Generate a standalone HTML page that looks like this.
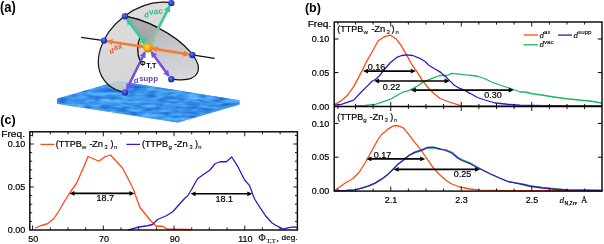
<!DOCTYPE html>
<html><head><meta charset="utf-8"><style>
html,body{margin:0;padding:0;background:#fff;}
svg{display:block;will-change:transform;}
</style></head><body>
<svg width="604" height="244" viewBox="0 0 604 244">
<rect width="604" height="244" fill="#fff"/>
<defs>
<filter id="tex" x="0" y="0" width="1" height="1" color-interpolation-filters="sRGB">
<feTurbulence type="fractalNoise" baseFrequency="0.07 0.28" numOctaves="2" seed="3" result="n"/>
<feColorMatrix in="n" type="matrix" values="0.40 0 0 0 0.035  0.56 0 0 0 0.30  0.30 0 0 0 0.77  0 0 0 0 1" result="c"/>
<feComposite in="c" in2="SourceGraphic" operator="in" result="t"/>

</filter>
<clipPath id="cA"><polygon points="217.3,-86.5 78.7,182 -100,182 -100,-86.5"/></clipPath>
<clipPath id="eA"><ellipse cx="148" cy="47.6" rx="54.64" ry="39.2" transform="rotate(143.03 148 47.6)"/></clipPath>
<clipPath id="cB"><polygon points="78.75,-47.25 217.4,142.5 400,142.5 400,-47.25"/></clipPath>
<radialGradient id="gs" cx="0.4" cy="0.35" r="0.7"><stop offset="0" stop-color="#ffd84a"/><stop offset="0.6" stop-color="#eea500"/><stop offset="1" stop-color="#b86e00"/></radialGradient>
<radialGradient id="gb" cx="0.4" cy="0.35" r="0.7"><stop offset="0" stop-color="#6478e6"/><stop offset="0.55" stop-color="#2c3fc4"/><stop offset="1" stop-color="#1a2790"/></radialGradient>
<linearGradient id="gB" gradientUnits="userSpaceOnUse" x1="150" y1="28" x2="188" y2="72"><stop offset="0" stop-color="#b4b7bc"/><stop offset="1" stop-color="#d8d9dc"/></linearGradient>
<linearGradient id="gW" gradientUnits="userSpaceOnUse" x1="148" y1="12" x2="148" y2="46"><stop offset="0" stop-color="#b8babd"/><stop offset="1" stop-color="#9a9ea3"/></linearGradient>
<linearGradient id="gA" gradientUnits="userSpaceOnUse" x1="150" y1="5" x2="110" y2="80"><stop offset="0" stop-color="#cecece"/><stop offset="1" stop-color="#d7d7d7"/></linearGradient>
<marker id="ag" viewBox="0 0 10 10" refX="8" refY="5" markerWidth="2.6" markerHeight="2.6" orient="auto-start-reverse"><path d="M0,0 L10,5 L0,10 z" fill="#2fd08e"/></marker>
<marker id="agm" viewBox="0 0 10 10" refX="8" refY="5" markerWidth="2.6" markerHeight="2.6" orient="auto-start-reverse"><path d="M0,0 L10,5 L0,10 z" fill="#8cc2a8"/></marker>
<marker id="ao" viewBox="0 0 10 10" refX="8" refY="5" markerWidth="2.4" markerHeight="2.4" orient="auto-start-reverse"><path d="M0,0 L10,5 L0,10 z" fill="#f57d32"/></marker>
<marker id="ap" viewBox="0 0 10 10" refX="8" refY="5" markerWidth="2.4" markerHeight="2.4" orient="auto-start-reverse"><path d="M0,0 L10,5 L0,10 z" fill="#7a4ee0"/></marker>
</defs>
<g filter="url(#tex)">
<polygon points="57,98.8 118.7,81 239.5,100.2 239.5,104.6 177.8,122.5 57,103.8" fill="#2f8ae8"/>
<polygon points="57,98.8 177.8,118 177.8,122.5 57,103.8" fill="#2f8ae8"/>
<polygon points="177.8,118 239.5,100.2 239.5,104.6 177.8,122.5" fill="#2e88e6"/>
<polygon points="57,98.8 118.7,81 239.5,100.2 177.8,118" fill="#3894ec"/>
</g>
<g clip-path="url(#cA)"><ellipse cx="148" cy="47.6" rx="54.64" ry="39.2" transform="rotate(143.03 148 47.6)" fill="url(#gA)" fill-opacity="0.85" stroke="#111" stroke-width="1.2"/></g>
<g clip-path="url(#cB)"><ellipse cx="148" cy="47.6" rx="55.47" ry="22.22" transform="rotate(27.27 148 47.6)" fill="url(#gB)" fill-opacity="0.92" stroke="#111" stroke-width="1.2"/></g>
<g clip-path="url(#cA)"><g clip-path="url(#cB)"><g clip-path="url(#eA)"><ellipse cx="148" cy="47.6" rx="55.47" ry="22.22" transform="rotate(27.27 148 47.6)" fill="url(#gW)"/></g></g></g>
<g clip-path="url(#cA)"><g clip-path="url(#cB)"><ellipse cx="148" cy="47.6" rx="55.47" ry="22.22" transform="rotate(27.27 148 47.6)" fill="none" stroke="#111" stroke-width="1.2"/></g></g>
<line x1="81.2" y1="37.4" x2="104" y2="40.6" stroke="#111" stroke-width="1.1"/>
<line x1="192.2" y1="54.9" x2="214.6" y2="58.4" stroke="#111" stroke-width="1.1"/>
<path d="M140.2,37.0 Q135.0,49.5 140.3,61.5" fill="none" stroke="#111" stroke-width="1.3"/>
<line x1="127.2" y1="19.5" x2="145.5" y2="44.3" stroke="#2fd08e" stroke-width="2.6" marker-start="url(#ag)" marker-end="url(#ag)"/>
<line x1="158.6" y1="27.6" x2="150.8" y2="43.0" stroke="#8cc2a8" stroke-width="2.6" marker-end="url(#agm)"/>
<line x1="169.5" y1="6.5" x2="158.4" y2="28.0" stroke="#2fd08e" stroke-width="2.6" marker-start="url(#ag)"/>
<line x1="107.5" y1="41.2" x2="143.5" y2="46.8" stroke="#f57d32" stroke-width="2.6" marker-start="url(#ao)" marker-end="url(#ao)"/>
<line x1="152.5" y1="48.5" x2="188.5" y2="54.4" stroke="#f57d32" stroke-width="2.6" marker-start="url(#ao)" marker-end="url(#ao)"/>
<line x1="127.0" y1="88.8" x2="144.8" y2="52.5" stroke="#7a4ee0" stroke-width="2.6" marker-start="url(#ap)" marker-end="url(#ap)"/>
<line x1="168.6" y1="75.8" x2="151.5" y2="52.3" stroke="#7a4ee0" stroke-width="2.6" marker-start="url(#ap)" marker-end="url(#ap)"/>
<circle cx="171.3" cy="3.1" r="3.2" fill="url(#gb)"/>
<circle cx="125" cy="16.2" r="3.2" fill="url(#gb)"/>
<circle cx="104" cy="40.6" r="3.2" fill="url(#gb)"/>
<circle cx="192.3" cy="55" r="3.2" fill="url(#gb)"/>
<circle cx="171.3" cy="79.3" r="3.2" fill="url(#gb)"/>
<circle cx="125" cy="92.5" r="3.2" fill="url(#gb)"/>
<circle cx="148.3" cy="46.6" r="5.6" fill="#c4a88e" fill-opacity="0.75"/>
<circle cx="148" cy="48.0" r="4.5" fill="url(#gs)"/>
<text x="0.0" y="12.2" font-family='"Liberation Sans", sans-serif' font-size="14" font-weight="bold" fill="#000" text-anchor="start" textLength="15.8" lengthAdjust="spacingAndGlyphs">(a)</text>
<g transform="rotate(-6 153 13)"><text x="144.0" y="16.9" font-family='"Liberation Sans", sans-serif' font-size="7.8" font-weight="bold" fill="#2fc282" text-anchor="start" >d<tspan dx="0.3" dy="-2.4" font-size="8.4">vac</tspan></text></g>
<g transform="rotate(-13 116 49)"><text x="109.0" y="52.6" font-family='"Liberation Sans", sans-serif' font-size="7.4" font-weight="bold" fill="#ee5a2a" text-anchor="start" >d<tspan dx="0.4" dy="-2.8" font-size="8.0">ax</tspan></text></g>
<text x="133.8" y="83.2" font-family='"Liberation Sans", sans-serif' font-size="7.8" font-weight="bold" fill="#6a3ec8" text-anchor="start" >d<tspan dx="0.6" dy="-2.0" font-size="7.9">supp</tspan></text>
<text x="139.9" y="65.6" font-family='"Liberation Sans", sans-serif' font-size="6.8" font-weight="bold" fill="#000" text-anchor="start" >Φ<tspan x="146.3" y="67.9" font-size="7.2">T,T</tspan></text>
<polyline points="356.00,105.80 365.00,105.30 375.00,104.50 381.10,102.40 390.40,99.30 396.50,95.80 402.70,92.20 408.80,90.60 412.90,88.60 419.10,85.00 421.10,83.20 428.50,79.80 434.60,77.30 439.50,75.50 446.90,75.50 451.80,73.40 459.20,74.20 465.40,74.80 470.00,75.10 477.50,76.25 485.00,78.75 492.50,82.50 500.00,85.00 507.50,87.50 515.00,90.00 520.00,92.00 525.00,92.00 532.50,93.75 541.50,95.00 554.00,97.00 566.50,98.75 579.00,100.00 591.50,101.25 601.50,103.00" fill="none" stroke="#1fb45e" stroke-width="1.3" stroke-linejoin="round" stroke-linecap="round" />
<polyline points="334.30,104.60 340.20,101.40 347.50,95.20 353.70,86.60 357.40,79.60 362.10,70.90 365.60,63.20 371.50,53.00 378.20,40.80 384.30,36.70 390.50,35.20 396.60,39.30 400.70,44.90 405.30,52.60 407.90,57.40 412.20,65.20 417.40,72.40 422.30,80.40 427.20,86.50 430.90,90.80 435.80,95.00 440.00,98.50 450.00,102.25 460.00,105.40 475.00,105.90 602.00,106.10" fill="none" stroke="#ff4a14" stroke-width="1.3" stroke-linejoin="round" stroke-linecap="round" />
<polyline points="334.30,105.20 341.40,104.40 353.70,100.10 360.00,93.30 366.20,87.10 372.30,81.00 375.40,79.50 379.70,75.50 384.60,69.30 390.70,62.30 396.80,57.40 401.70,55.50 406.70,54.90 412.80,55.50 420.50,58.70 425.00,61.50 428.50,65.00 434.60,68.70 440.80,72.40 445.70,76.70 450.60,81.60 454.30,85.30 458.60,87.80 464.10,90.20 470.00,93.30 477.50,97.50 485.00,100.00 495.00,103.00 507.50,104.25 520.00,105.10 545.00,105.60 602.00,105.90" fill="none" stroke="#3a16c0" stroke-width="1.3" stroke-linejoin="round" stroke-linecap="round" />
<polyline points="334.60,190.60 346.50,190.40 355.00,189.90 361.60,188.20 368.10,186.20 374.70,183.40 381.20,179.40 387.80,174.40 393.10,169.20 398.30,163.90 403.60,160.00 405.00,158.60 409.90,154.80 414.80,152.80 422.20,150.40 427.10,148.20 433.30,147.90 439.40,149.40 445.60,149.60 451.70,152.10 457.90,157.30 462.00,159.60 470.00,162.85 480.00,168.75 490.00,173.75 500.00,178.25 508.75,181.75 515.00,182.80 522.50,183.90 530.00,185.65 542.50,187.40 555.00,188.65 567.50,190.00 602.00,190.50" fill="none" stroke="#1fb45e" stroke-width="1.3" stroke-linejoin="round" stroke-linecap="round" />
<polyline points="334.60,190.50 335.25,190.00 339.00,187.50 345.25,183.00 352.75,178.75 359.00,172.50 365.25,162.50 371.50,151.25 377.75,140.00 381.50,134.50 385.00,131.70 388.70,128.60 392.40,126.40 396.10,125.50 399.80,126.40 403.40,128.00 407.10,132.30 410.80,137.20 414.50,142.10 418.20,146.40 421.00,149.90 424.70,155.50 429.00,161.60 433.30,167.80 439.40,174.50 445.00,179.50 451.25,183.75 460.00,187.00 470.00,189.00 480.00,190.10 515.00,190.60 602.00,190.70" fill="none" stroke="#ff4a14" stroke-width="1.3" stroke-linejoin="round" stroke-linecap="round" />
<polyline points="334.60,190.60 346.50,190.40 355.00,189.90 361.60,188.20 368.10,186.20 374.70,183.40 381.20,179.40 387.80,174.40 393.10,169.20 398.30,163.90 403.60,160.00 405.00,158.60 409.90,154.80 414.80,152.10 422.20,149.70 427.10,147.50 433.30,147.20 439.40,148.70 445.60,150.50 451.70,153.00 457.90,158.20 462.00,160.50 470.00,163.75 480.00,168.75 490.00,173.75 500.00,178.25 508.75,181.75 515.00,182.80 522.50,184.50 530.00,186.25 542.50,188.00 555.00,189.25 567.50,190.00 602.00,190.50" fill="none" stroke="#3a16c0" stroke-width="1.3" stroke-linejoin="round" stroke-linecap="round" />
<line x1="337.88" y1="22.0" x2="337.88" y2="24.6" stroke="#000" stroke-width="0.9"/><line x1="337.88" y1="106.5" x2="337.88" y2="103.9" stroke="#000" stroke-width="0.9"/><line x1="355.50" y1="22.0" x2="355.50" y2="24.6" stroke="#000" stroke-width="0.9"/><line x1="355.50" y1="106.5" x2="355.50" y2="103.9" stroke="#000" stroke-width="0.9"/><line x1="373.12" y1="22.0" x2="373.12" y2="24.6" stroke="#000" stroke-width="0.9"/><line x1="373.12" y1="106.5" x2="373.12" y2="103.9" stroke="#000" stroke-width="0.9"/><line x1="390.75" y1="22.0" x2="390.75" y2="26.5" stroke="#000" stroke-width="0.9"/><line x1="390.75" y1="106.5" x2="390.75" y2="102.0" stroke="#000" stroke-width="0.9"/><line x1="408.38" y1="22.0" x2="408.38" y2="24.6" stroke="#000" stroke-width="0.9"/><line x1="408.38" y1="106.5" x2="408.38" y2="103.9" stroke="#000" stroke-width="0.9"/><line x1="426.00" y1="22.0" x2="426.00" y2="24.6" stroke="#000" stroke-width="0.9"/><line x1="426.00" y1="106.5" x2="426.00" y2="103.9" stroke="#000" stroke-width="0.9"/><line x1="443.62" y1="22.0" x2="443.62" y2="24.6" stroke="#000" stroke-width="0.9"/><line x1="443.62" y1="106.5" x2="443.62" y2="103.9" stroke="#000" stroke-width="0.9"/><line x1="461.25" y1="22.0" x2="461.25" y2="26.5" stroke="#000" stroke-width="0.9"/><line x1="461.25" y1="106.5" x2="461.25" y2="102.0" stroke="#000" stroke-width="0.9"/><line x1="478.88" y1="22.0" x2="478.88" y2="24.6" stroke="#000" stroke-width="0.9"/><line x1="478.88" y1="106.5" x2="478.88" y2="103.9" stroke="#000" stroke-width="0.9"/><line x1="496.50" y1="22.0" x2="496.50" y2="24.6" stroke="#000" stroke-width="0.9"/><line x1="496.50" y1="106.5" x2="496.50" y2="103.9" stroke="#000" stroke-width="0.9"/><line x1="514.12" y1="22.0" x2="514.12" y2="24.6" stroke="#000" stroke-width="0.9"/><line x1="514.12" y1="106.5" x2="514.12" y2="103.9" stroke="#000" stroke-width="0.9"/><line x1="531.75" y1="22.0" x2="531.75" y2="26.5" stroke="#000" stroke-width="0.9"/><line x1="531.75" y1="106.5" x2="531.75" y2="102.0" stroke="#000" stroke-width="0.9"/><line x1="549.38" y1="22.0" x2="549.38" y2="24.6" stroke="#000" stroke-width="0.9"/><line x1="549.38" y1="106.5" x2="549.38" y2="103.9" stroke="#000" stroke-width="0.9"/><line x1="567.00" y1="22.0" x2="567.00" y2="24.6" stroke="#000" stroke-width="0.9"/><line x1="567.00" y1="106.5" x2="567.00" y2="103.9" stroke="#000" stroke-width="0.9"/><line x1="584.62" y1="22.0" x2="584.62" y2="24.6" stroke="#000" stroke-width="0.9"/><line x1="584.62" y1="106.5" x2="584.62" y2="103.9" stroke="#000" stroke-width="0.9"/><line x1="334.2" y1="39.0" x2="338.4" y2="39.0" stroke="#000" stroke-width="1.0"/><line x1="602.0" y1="39.0" x2="597.8" y2="39.0" stroke="#000" stroke-width="1.0"/><line x1="334.2" y1="72.6" x2="338.4" y2="72.6" stroke="#000" stroke-width="1.0"/><line x1="602.0" y1="72.6" x2="597.8" y2="72.6" stroke="#000" stroke-width="1.0"/>
<line x1="337.88" y1="106.5" x2="337.88" y2="109.1" stroke="#000" stroke-width="0.9"/><line x1="337.88" y1="191.1" x2="337.88" y2="188.5" stroke="#000" stroke-width="0.9"/><line x1="355.50" y1="106.5" x2="355.50" y2="109.1" stroke="#000" stroke-width="0.9"/><line x1="355.50" y1="191.1" x2="355.50" y2="188.5" stroke="#000" stroke-width="0.9"/><line x1="373.12" y1="106.5" x2="373.12" y2="109.1" stroke="#000" stroke-width="0.9"/><line x1="373.12" y1="191.1" x2="373.12" y2="188.5" stroke="#000" stroke-width="0.9"/><line x1="390.75" y1="106.5" x2="390.75" y2="111.0" stroke="#000" stroke-width="0.9"/><line x1="390.75" y1="191.1" x2="390.75" y2="186.6" stroke="#000" stroke-width="0.9"/><line x1="408.38" y1="106.5" x2="408.38" y2="109.1" stroke="#000" stroke-width="0.9"/><line x1="408.38" y1="191.1" x2="408.38" y2="188.5" stroke="#000" stroke-width="0.9"/><line x1="426.00" y1="106.5" x2="426.00" y2="109.1" stroke="#000" stroke-width="0.9"/><line x1="426.00" y1="191.1" x2="426.00" y2="188.5" stroke="#000" stroke-width="0.9"/><line x1="443.62" y1="106.5" x2="443.62" y2="109.1" stroke="#000" stroke-width="0.9"/><line x1="443.62" y1="191.1" x2="443.62" y2="188.5" stroke="#000" stroke-width="0.9"/><line x1="461.25" y1="106.5" x2="461.25" y2="111.0" stroke="#000" stroke-width="0.9"/><line x1="461.25" y1="191.1" x2="461.25" y2="186.6" stroke="#000" stroke-width="0.9"/><line x1="478.88" y1="106.5" x2="478.88" y2="109.1" stroke="#000" stroke-width="0.9"/><line x1="478.88" y1="191.1" x2="478.88" y2="188.5" stroke="#000" stroke-width="0.9"/><line x1="496.50" y1="106.5" x2="496.50" y2="109.1" stroke="#000" stroke-width="0.9"/><line x1="496.50" y1="191.1" x2="496.50" y2="188.5" stroke="#000" stroke-width="0.9"/><line x1="514.12" y1="106.5" x2="514.12" y2="109.1" stroke="#000" stroke-width="0.9"/><line x1="514.12" y1="191.1" x2="514.12" y2="188.5" stroke="#000" stroke-width="0.9"/><line x1="531.75" y1="106.5" x2="531.75" y2="111.0" stroke="#000" stroke-width="0.9"/><line x1="531.75" y1="191.1" x2="531.75" y2="186.6" stroke="#000" stroke-width="0.9"/><line x1="549.38" y1="106.5" x2="549.38" y2="109.1" stroke="#000" stroke-width="0.9"/><line x1="549.38" y1="191.1" x2="549.38" y2="188.5" stroke="#000" stroke-width="0.9"/><line x1="567.00" y1="106.5" x2="567.00" y2="109.1" stroke="#000" stroke-width="0.9"/><line x1="567.00" y1="191.1" x2="567.00" y2="188.5" stroke="#000" stroke-width="0.9"/><line x1="584.62" y1="106.5" x2="584.62" y2="109.1" stroke="#000" stroke-width="0.9"/><line x1="584.62" y1="191.1" x2="584.62" y2="188.5" stroke="#000" stroke-width="0.9"/><line x1="334.2" y1="123.4" x2="338.4" y2="123.4" stroke="#000" stroke-width="1.0"/><line x1="602.0" y1="123.4" x2="597.8" y2="123.4" stroke="#000" stroke-width="1.0"/><line x1="334.2" y1="157.2" x2="338.4" y2="157.2" stroke="#000" stroke-width="1.0"/><line x1="602.0" y1="157.2" x2="597.8" y2="157.2" stroke="#000" stroke-width="1.0"/>
<rect x="334.2" y="22.0" width="267.8" height="169.1" fill="none" stroke="#000" stroke-width="1.4"/>
<line x1="334.2" y1="106.5" x2="602.0" y2="106.5" stroke="#000" stroke-width="1.4"/>
<line x1="367.5" y1="71.1" x2="411.3" y2="71.1" stroke="#000" stroke-width="1.6"/><polygon points="363.0,71.1 368.0,68.69999999999999 368.0,73.5" fill="#000"/><polygon points="415.8,71.1 410.8,68.69999999999999 410.8,73.5" fill="#000"/>
<line x1="378.6" y1="81.0" x2="445.1" y2="81.0" stroke="#000" stroke-width="1.6"/><polygon points="374.1,81.0 379.1,78.6 379.1,83.4" fill="#000"/><polygon points="449.6,81.0 444.6,78.6 444.6,83.4" fill="#000"/>
<line x1="415.3" y1="90.1" x2="509.25" y2="90.1" stroke="#000" stroke-width="1.6"/><polygon points="410.8,90.1 415.8,87.69999999999999 415.8,92.5" fill="#000"/><polygon points="513.75,90.1 508.75,87.69999999999999 508.75,92.5" fill="#000"/>
<line x1="371.0" y1="158.9" x2="420.7" y2="158.9" stroke="#000" stroke-width="1.6"/><polygon points="366.5,158.9 371.5,156.5 371.5,161.3" fill="#000"/><polygon points="425.2,158.9 420.2,156.5 420.2,161.3" fill="#000"/>
<line x1="398.1" y1="169.4" x2="475.5" y2="169.4" stroke="#000" stroke-width="1.6"/><polygon points="393.6,169.4 398.6,167.0 398.6,171.8" fill="#000"/><polygon points="480,169.4 475.0,167.0 475.0,171.8" fill="#000"/>
<text x="376.5" y="70.3" font-family='"Liberation Sans", sans-serif' font-size="9" font-weight="normal" fill="#000" text-anchor="middle" stroke="#000" stroke-width="0.2" >0.16</text>
<text x="391.5" y="89.5" font-family='"Liberation Sans", sans-serif' font-size="9" font-weight="normal" fill="#000" text-anchor="middle" stroke="#000" stroke-width="0.2" >0.22</text>
<text x="492.9" y="98.3" font-family='"Liberation Sans", sans-serif' font-size="9" font-weight="normal" fill="#000" text-anchor="middle" stroke="#000" stroke-width="0.2" >0.30</text>
<text x="382.5" y="157.5" font-family='"Liberation Sans", sans-serif' font-size="9" font-weight="normal" fill="#000" text-anchor="middle" stroke="#000" stroke-width="0.2" >0.17</text>
<text x="462.5" y="177.3" font-family='"Liberation Sans", sans-serif' font-size="9" font-weight="normal" fill="#000" text-anchor="middle" stroke="#000" stroke-width="0.2" >0.25</text>
<text x="304.9" y="11.9" font-family='"Liberation Sans", sans-serif' font-size="12.5" font-weight="bold" fill="#000" text-anchor="start" >(b)</text>
<text x="307.7" y="27.3" font-family='"Liberation Sans", sans-serif' font-size="8.7" font-weight="normal" fill="#000" text-anchor="start" stroke="#000" stroke-width="0.2" textLength="23.6" lengthAdjust="spacingAndGlyphs">Freq.</text>
<text x="329.3" y="42.2" font-family='"Liberation Sans", sans-serif' font-size="9" font-weight="normal" fill="#000" text-anchor="end" stroke="#000" stroke-width="0.2" >0.10</text>
<text x="329.3" y="75.8" font-family='"Liberation Sans", sans-serif' font-size="9" font-weight="normal" fill="#000" text-anchor="end" stroke="#000" stroke-width="0.2" >0.05</text>
<text x="329.3" y="109.5" font-family='"Liberation Sans", sans-serif' font-size="9" font-weight="normal" fill="#000" text-anchor="end" stroke="#000" stroke-width="0.2" >0.00</text>
<text x="329.3" y="126.60000000000001" font-family='"Liberation Sans", sans-serif' font-size="9" font-weight="normal" fill="#000" text-anchor="end" stroke="#000" stroke-width="0.2" >0.10</text>
<text x="329.3" y="160.39999999999998" font-family='"Liberation Sans", sans-serif' font-size="9" font-weight="normal" fill="#000" text-anchor="end" stroke="#000" stroke-width="0.2" >0.05</text>
<text x="329.3" y="193.89999999999998" font-family='"Liberation Sans", sans-serif' font-size="9" font-weight="normal" fill="#000" text-anchor="end" stroke="#000" stroke-width="0.2" >0.00</text>
<text x="391.05" y="203" font-family='"Liberation Sans", sans-serif' font-size="9" font-weight="normal" fill="#000" text-anchor="middle" stroke="#000" stroke-width="0.2" >2.1</text>
<text x="461.55" y="203" font-family='"Liberation Sans", sans-serif' font-size="9" font-weight="normal" fill="#000" text-anchor="middle" stroke="#000" stroke-width="0.2" >2.3</text>
<text x="532.05" y="203" font-family='"Liberation Sans", sans-serif' font-size="9" font-weight="normal" fill="#000" text-anchor="middle" stroke="#000" stroke-width="0.2" >2.5</text>
<text font-family='"Liberation Sans", sans-serif' font-size="9.0" fill="#000" stroke="#000" stroke-width="0.2"><tspan x="337.3" y="31.6">(TTPB</tspan><tspan x="363.5" y="33.6" font-size="6.2" stroke-width="0.1">w</tspan><tspan x="371.4" y="31.6">-</tspan><tspan x="374.2" y="31.6" font-size="9.4">Zn</tspan><tspan x="386.4" y="33.800000000000004" font-size="6.0" stroke-width="0.1">3</tspan><tspan x="391.5" y="31.6">)</tspan><tspan x="395.6" y="33.6" font-size="5.8" stroke-width="0.1">n</tspan></text>
<text font-family='"Liberation Sans", sans-serif' font-size="9.0" fill="#000" stroke="#000" stroke-width="0.2"><tspan x="337.3" y="119.5">(TTPB</tspan><tspan x="363.2" y="121.5" font-size="6.2" stroke-width="0.1">g</tspan><tspan x="369.4" y="119.5">-</tspan><tspan x="372.5" y="119.5" font-size="9.4">Zn</tspan><tspan x="384.6" y="121.7" font-size="6.0" stroke-width="0.1">3</tspan><tspan x="390.3" y="119.5">)</tspan><tspan x="394.0" y="121.5" font-size="5.8" stroke-width="0.1">n</tspan></text>
<text x="559.6" y="202.9" font-family='"Liberation Serif", serif' font-size="9.2" font-weight="normal" fill="#000" text-anchor="start" stroke="#000" stroke-width="0.15" ><tspan font-style="italic">d</tspan></text>
<text x="564.4" y="204.6" font-family='"Liberation Sans", sans-serif' font-size="5.2" font-weight="bold" fill="#000" text-anchor="start" >N,Zn</text>
<text x="575.0" y="202.9" font-family='"Liberation Serif", serif' font-size="9" font-weight="normal" fill="#000" text-anchor="start" stroke="#000" stroke-width="0.15" >,</text>
<text x="581.0" y="202.9" font-family='"Liberation Serif", serif' font-size="9" font-weight="normal" fill="#000" text-anchor="start" stroke="#000" stroke-width="0.15" >Å</text>
<line x1="523.6" y1="35" x2="538" y2="35" stroke="#ff4a14" stroke-width="1.3"/>
<line x1="523.6" y1="44.8" x2="538" y2="44.8" stroke="#1fb45e" stroke-width="1.3"/>
<line x1="558" y1="35.1" x2="572" y2="35.1" stroke="#3a16c0" stroke-width="1.3"/>
<text x="539.5" y="37.6" font-family='"Liberation Serif", serif' font-size="9" font-weight="normal" fill="#000" text-anchor="start" stroke="#000" stroke-width="0.1" ><tspan font-style="italic">d</tspan><tspan font-size="6.2" dy="-3.8" font-family='"Liberation Sans", sans-serif'>ax</tspan></text>
<text x="539.5" y="47.4" font-family='"Liberation Serif", serif' font-size="9" font-weight="normal" fill="#000" text-anchor="start" stroke="#000" stroke-width="0.1" ><tspan font-style="italic">d</tspan><tspan font-size="6.2" dy="-3.8" font-family='"Liberation Sans", sans-serif'>vac</tspan></text>
<text x="573.6" y="37.6" font-family='"Liberation Serif", serif' font-size="9" font-weight="normal" fill="#000" text-anchor="start" stroke="#000" stroke-width="0.1" ><tspan font-style="italic">d</tspan><tspan font-size="6.2" dy="-3.8" font-family='"Liberation Sans", sans-serif'>supp</tspan></text>
<polyline points="35.50,228.00 41.25,225.50 47.50,223.75 53.75,218.75 58.75,211.25 63.75,202.50 70.00,192.50 76.25,183.75 82.50,170.00 88.00,156.50 98.90,161.25 105.00,156.75 110.50,155.00 122.50,168.00 128.75,180.00 133.75,190.00 136.25,197.50 140.00,207.50 145.00,213.75 151.25,221.25 156.25,226.25 162.50,226.25 167.50,229.25 190.00,229.50" fill="none" stroke="#ff4a14" stroke-width="1.3" stroke-linejoin="round" stroke-linecap="round" />
<polyline points="128.75,229.80 138.75,227.00 147.50,225.75 152.50,224.50 157.50,219.50 166.25,215.75 172.50,212.00 178.75,205.00 185.00,198.00 187.50,196.00 191.25,190.00 197.50,178.75 203.75,174.25 210.00,170.00 215.00,163.75 220.00,161.75 226.25,161.75 231.75,157.00 237.40,165.80 244.60,180.00 249.20,185.10 251.30,190.30 252.80,194.40 254.90,199.50 260.20,207.90 265.50,215.70 272.10,223.00 277.30,226.20 283.20,229.10 287.80,227.80 294.40,226.90 297.00,227.60" fill="none" stroke="#3a16c0" stroke-width="1.3" stroke-linejoin="round" stroke-linecap="round" />
<line x1="32.60" y1="131.8" x2="32.60" y2="136.3" stroke="#000" stroke-width="0.9"/><line x1="32.60" y1="230.0" x2="32.60" y2="225.5" stroke="#000" stroke-width="0.9"/><line x1="50.28" y1="131.8" x2="50.28" y2="134.4" stroke="#000" stroke-width="0.9"/><line x1="50.28" y1="230.0" x2="50.28" y2="227.4" stroke="#000" stroke-width="0.9"/><line x1="67.96" y1="131.8" x2="67.96" y2="134.4" stroke="#000" stroke-width="0.9"/><line x1="67.96" y1="230.0" x2="67.96" y2="227.4" stroke="#000" stroke-width="0.9"/><line x1="85.64" y1="131.8" x2="85.64" y2="134.4" stroke="#000" stroke-width="0.9"/><line x1="85.64" y1="230.0" x2="85.64" y2="227.4" stroke="#000" stroke-width="0.9"/><line x1="103.32" y1="131.8" x2="103.32" y2="136.3" stroke="#000" stroke-width="0.9"/><line x1="103.32" y1="230.0" x2="103.32" y2="225.5" stroke="#000" stroke-width="0.9"/><line x1="121.00" y1="131.8" x2="121.00" y2="134.4" stroke="#000" stroke-width="0.9"/><line x1="121.00" y1="230.0" x2="121.00" y2="227.4" stroke="#000" stroke-width="0.9"/><line x1="138.68" y1="131.8" x2="138.68" y2="134.4" stroke="#000" stroke-width="0.9"/><line x1="138.68" y1="230.0" x2="138.68" y2="227.4" stroke="#000" stroke-width="0.9"/><line x1="156.36" y1="131.8" x2="156.36" y2="134.4" stroke="#000" stroke-width="0.9"/><line x1="156.36" y1="230.0" x2="156.36" y2="227.4" stroke="#000" stroke-width="0.9"/><line x1="174.04" y1="131.8" x2="174.04" y2="136.3" stroke="#000" stroke-width="0.9"/><line x1="174.04" y1="230.0" x2="174.04" y2="225.5" stroke="#000" stroke-width="0.9"/><line x1="191.72" y1="131.8" x2="191.72" y2="134.4" stroke="#000" stroke-width="0.9"/><line x1="191.72" y1="230.0" x2="191.72" y2="227.4" stroke="#000" stroke-width="0.9"/><line x1="209.40" y1="131.8" x2="209.40" y2="134.4" stroke="#000" stroke-width="0.9"/><line x1="209.40" y1="230.0" x2="209.40" y2="227.4" stroke="#000" stroke-width="0.9"/><line x1="227.08" y1="131.8" x2="227.08" y2="134.4" stroke="#000" stroke-width="0.9"/><line x1="227.08" y1="230.0" x2="227.08" y2="227.4" stroke="#000" stroke-width="0.9"/><line x1="244.76" y1="131.8" x2="244.76" y2="136.3" stroke="#000" stroke-width="0.9"/><line x1="244.76" y1="230.0" x2="244.76" y2="225.5" stroke="#000" stroke-width="0.9"/><line x1="262.44" y1="131.8" x2="262.44" y2="134.4" stroke="#000" stroke-width="0.9"/><line x1="262.44" y1="230.0" x2="262.44" y2="227.4" stroke="#000" stroke-width="0.9"/><line x1="280.12" y1="131.8" x2="280.12" y2="134.4" stroke="#000" stroke-width="0.9"/><line x1="280.12" y1="230.0" x2="280.12" y2="227.4" stroke="#000" stroke-width="0.9"/><line x1="29.8" y1="221.40" x2="32.2" y2="221.40" stroke="#000" stroke-width="0.9"/><line x1="297.4" y1="221.40" x2="295.0" y2="221.40" stroke="#000" stroke-width="0.9"/><line x1="29.8" y1="212.80" x2="32.2" y2="212.80" stroke="#000" stroke-width="0.9"/><line x1="297.4" y1="212.80" x2="295.0" y2="212.80" stroke="#000" stroke-width="0.9"/><line x1="29.8" y1="204.20" x2="32.2" y2="204.20" stroke="#000" stroke-width="0.9"/><line x1="297.4" y1="204.20" x2="295.0" y2="204.20" stroke="#000" stroke-width="0.9"/><line x1="29.8" y1="195.60" x2="32.2" y2="195.60" stroke="#000" stroke-width="0.9"/><line x1="297.4" y1="195.60" x2="295.0" y2="195.60" stroke="#000" stroke-width="0.9"/><line x1="29.8" y1="187.00" x2="33.8" y2="187.00" stroke="#000" stroke-width="0.9"/><line x1="297.4" y1="187.00" x2="293.4" y2="187.00" stroke="#000" stroke-width="0.9"/><line x1="29.8" y1="178.40" x2="32.2" y2="178.40" stroke="#000" stroke-width="0.9"/><line x1="297.4" y1="178.40" x2="295.0" y2="178.40" stroke="#000" stroke-width="0.9"/><line x1="29.8" y1="169.80" x2="32.2" y2="169.80" stroke="#000" stroke-width="0.9"/><line x1="297.4" y1="169.80" x2="295.0" y2="169.80" stroke="#000" stroke-width="0.9"/><line x1="29.8" y1="161.20" x2="32.2" y2="161.20" stroke="#000" stroke-width="0.9"/><line x1="297.4" y1="161.20" x2="295.0" y2="161.20" stroke="#000" stroke-width="0.9"/><line x1="29.8" y1="152.60" x2="32.2" y2="152.60" stroke="#000" stroke-width="0.9"/><line x1="297.4" y1="152.60" x2="295.0" y2="152.60" stroke="#000" stroke-width="0.9"/><line x1="29.8" y1="144.00" x2="33.8" y2="144.00" stroke="#000" stroke-width="0.9"/><line x1="297.4" y1="144.00" x2="293.4" y2="144.00" stroke="#000" stroke-width="0.9"/><line x1="29.8" y1="135.40" x2="32.2" y2="135.40" stroke="#000" stroke-width="0.9"/><line x1="297.4" y1="135.40" x2="295.0" y2="135.40" stroke="#000" stroke-width="0.9"/>
<rect x="29.8" y="131.8" width="267.59999999999997" height="98.19999999999999" fill="none" stroke="#000" stroke-width="1.4"/>
<line x1="74.0" y1="193.4" x2="130.0" y2="193.4" stroke="#000" stroke-width="1.6"/><polygon points="69.5,193.4 74.5,191.0 74.5,195.8" fill="#000"/><polygon points="134.5,193.4 129.5,191.0 129.5,195.8" fill="#000"/>
<line x1="195.0" y1="193.79999999999998" x2="247.8" y2="193.79999999999998" stroke="#000" stroke-width="1.6"/><polygon points="190.5,193.79999999999998 195.5,191.39999999999998 195.5,196.2" fill="#000"/><polygon points="252.3,193.79999999999998 247.3,191.39999999999998 247.3,196.2" fill="#000"/>
<text x="105.3" y="201.2" font-family='"Liberation Sans", sans-serif' font-size="9" font-weight="normal" fill="#000" text-anchor="middle" stroke="#000" stroke-width="0.2" >18.7</text>
<text x="224.3" y="202.3" font-family='"Liberation Sans", sans-serif' font-size="9" font-weight="normal" fill="#000" text-anchor="middle" stroke="#000" stroke-width="0.2" >18.1</text>
<text x="0.3" y="124.3" font-family='"Liberation Sans", sans-serif' font-size="12.5" font-weight="bold" fill="#000" text-anchor="start" >(c)</text>
<text x="1.2" y="137.4" font-family='"Liberation Sans", sans-serif' font-size="8.7" font-weight="normal" fill="#000" text-anchor="start" stroke="#000" stroke-width="0.2" textLength="23.9" lengthAdjust="spacingAndGlyphs">Freq.</text>
<text x="25.4" y="147.2" font-family='"Liberation Sans", sans-serif' font-size="9" font-weight="normal" fill="#000" text-anchor="end" stroke="#000" stroke-width="0.2" >0.10</text>
<text x="25.4" y="190.2" font-family='"Liberation Sans", sans-serif' font-size="9" font-weight="normal" fill="#000" text-anchor="end" stroke="#000" stroke-width="0.2" >0.05</text>
<text x="25.4" y="233.2" font-family='"Liberation Sans", sans-serif' font-size="9" font-weight="normal" fill="#000" text-anchor="end" stroke="#000" stroke-width="0.2" >0.00</text>
<text x="33.300000000000004" y="241.6" font-family='"Liberation Sans", sans-serif' font-size="9" font-weight="normal" fill="#000" text-anchor="middle" stroke="#000" stroke-width="0.2" >50</text>
<text x="104.02" y="241.6" font-family='"Liberation Sans", sans-serif' font-size="9" font-weight="normal" fill="#000" text-anchor="middle" stroke="#000" stroke-width="0.2" >70</text>
<text x="174.73999999999998" y="241.6" font-family='"Liberation Sans", sans-serif' font-size="9" font-weight="normal" fill="#000" text-anchor="middle" stroke="#000" stroke-width="0.2" >90</text>
<text x="245.45999999999998" y="241.6" font-family='"Liberation Sans", sans-serif' font-size="9" font-weight="normal" fill="#000" text-anchor="middle" stroke="#000" stroke-width="0.2" >110</text>
<text x="258.6" y="241.4" font-family='"Liberation Serif", serif' font-size="9.8" font-weight="normal" fill="#000" text-anchor="start" stroke="#000" stroke-width="0.1" >Φ</text>
<text x="266.5" y="242.6" font-family='"Liberation Serif", serif' font-size="6.6" font-weight="normal" fill="#000" text-anchor="start" stroke="#000" stroke-width="0.1" >T,T</text>
<text x="276.5" y="240.5" font-family='"Liberation Serif", serif' font-size="9" font-weight="normal" fill="#000" text-anchor="start" stroke="#000" stroke-width="0.15" >,</text>
<text x="281.6" y="240.4" font-family='"Liberation Sans", sans-serif' font-size="7.3" font-weight="normal" fill="#000" text-anchor="start" stroke="#000" stroke-width="0.2" textLength="15.9" lengthAdjust="spacingAndGlyphs">deg.</text>
<line x1="40.5" y1="144.4" x2="54.5" y2="144.4" stroke="#ff4a14" stroke-width="1.3"/>
<line x1="126.5" y1="144.4" x2="140" y2="144.4" stroke="#3a16c0" stroke-width="1.3"/>
<text font-family='"Liberation Sans", sans-serif' font-size="9.0" fill="#000" stroke="#000" stroke-width="0.2"><tspan x="55.8" y="147.2">(TTPB</tspan><tspan x="81.7" y="149.2" font-size="6.2" stroke-width="0.1">w</tspan><tspan x="89.6" y="147.2">-</tspan><tspan x="92.1" y="147.2" font-size="9.4">Zn</tspan><tspan x="104.3" y="149.39999999999998" font-size="6.0" stroke-width="0.1">3</tspan><tspan x="110.5" y="147.2">)</tspan><tspan x="114.1" y="149.2" font-size="5.8" stroke-width="0.1">n</tspan></text>
<text font-family='"Liberation Sans", sans-serif' font-size="9.0" fill="#000" stroke="#000" stroke-width="0.2"><tspan x="141.9" y="147.2">(TTPB</tspan><tspan x="168.4" y="149.2" font-size="6.2" stroke-width="0.1">g</tspan><tspan x="174.0" y="147.2">-</tspan><tspan x="176.8" y="147.2" font-size="9.4">Zn</tspan><tspan x="189.3" y="149.39999999999998" font-size="6.0" stroke-width="0.1">3</tspan><tspan x="195.0" y="147.2">)</tspan><tspan x="198.3" y="149.2" font-size="5.8" stroke-width="0.1">n</tspan></text>
</svg>
</body></html>
